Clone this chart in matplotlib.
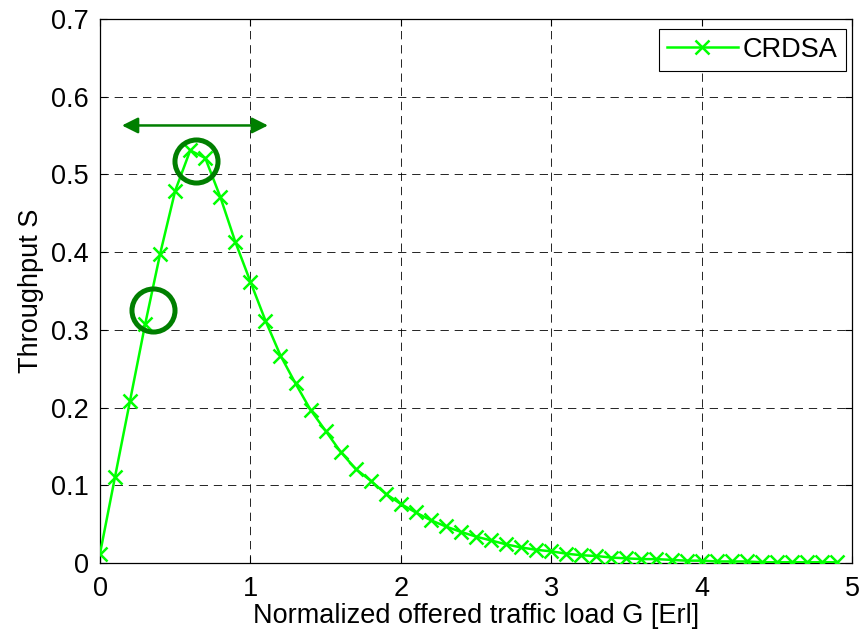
import matplotlib
matplotlib.use("Agg")
import matplotlib.pyplot as plt
import numpy as np

plt.rcParams['font.family'] = ['Liberation Sans', 'DejaVu Sans']

G = [round(0.1 * i, 1) for i in range(50)]
S = [0.012, 0.111, 0.209, 0.307, 0.398, 0.479, 0.531, 0.521, 0.471, 0.413,
     0.362, 0.312, 0.267, 0.231, 0.197, 0.170, 0.143, 0.121, 0.106, 0.089,
     0.076, 0.065, 0.055, 0.047, 0.040, 0.034, 0.029, 0.024, 0.020, 0.017,
     0.015, 0.012, 0.010, 0.009, 0.007, 0.006, 0.005, 0.005, 0.004, 0.003,
     0.003, 0.002, 0.002, 0.002, 0.001, 0.001, 0.001, 0.001, 0.001, 0.001]
series_label = "CRDSA"
xticks = [0, 1, 2, 3, 4, 5]
yticks = [0, 0.1, 0.2, 0.3, 0.4, 0.5, 0.6, 0.7]
circle_x = [0.64, 0.351]
circle_y = [0.517, 0.325]
arrow_x = [0.146, 1.117]
arrow_y = 0.563

fig = plt.figure(figsize=(8.63, 6.3), dpi=100)
ax = fig.add_axes([100/863, (630-563)/630, 752/863, 544/630])

green = '#00ff00'
dark = '#007f00'
fs = 19.5

ax.plot(G, S, color=green, lw=1.8, marker='x', markersize=10, markeredgewidth=1.8,
        label=series_label, zorder=3)

ax.plot(circle_x, circle_y, linestyle='none', marker='o', markersize=31,
        markerfacecolor='none', markeredgecolor=dark, markeredgewidth=3.6, zorder=4)

ax.annotate('', xy=(arrow_x[0], arrow_y), xytext=(arrow_x[1], arrow_y),
            arrowprops=dict(arrowstyle='<|-|>', color=dark, lw=1.8,
                            mutation_scale=24, shrinkA=0, shrinkB=0), zorder=4)

ax.set_xlim(0, 5)
ax.set_ylim(0, 0.7)
ax.set_xticks(xticks)
ax.set_yticks(yticks)
ax.set_xticklabels([str(t) for t in xticks])
ax.set_yticklabels(['0'] + ['%.1f' % t for t in yticks[1:]])
ax.tick_params(direction='in', length=5, width=0.8, labelsize=fs, pad=8,
               top=True, right=True)
ax.tick_params(axis='x', pad=9)
ax.grid(True, color='black', linestyle=(0, (10, 7)), linewidth=0.6)
for sp in ax.spines.values():
    sp.set_linewidth(0.9)

ax.set_xlabel('Normalized offered traffic load G [Erl]', fontsize=fs, labelpad=1)
ax.set_ylabel('Throughput S', fontsize=fs, labelpad=5)

leg = ax.legend(loc='upper right', bbox_to_anchor=(0.992, 0.982), borderaxespad=0,
                fancybox=False, edgecolor='black', fontsize=fs, handlelength=2.6,
                handletextpad=0.2, borderpad=0.3, framealpha=1)
leg.get_frame().set_linewidth(0.8)

fig.savefig('out.png', dpi=100)
